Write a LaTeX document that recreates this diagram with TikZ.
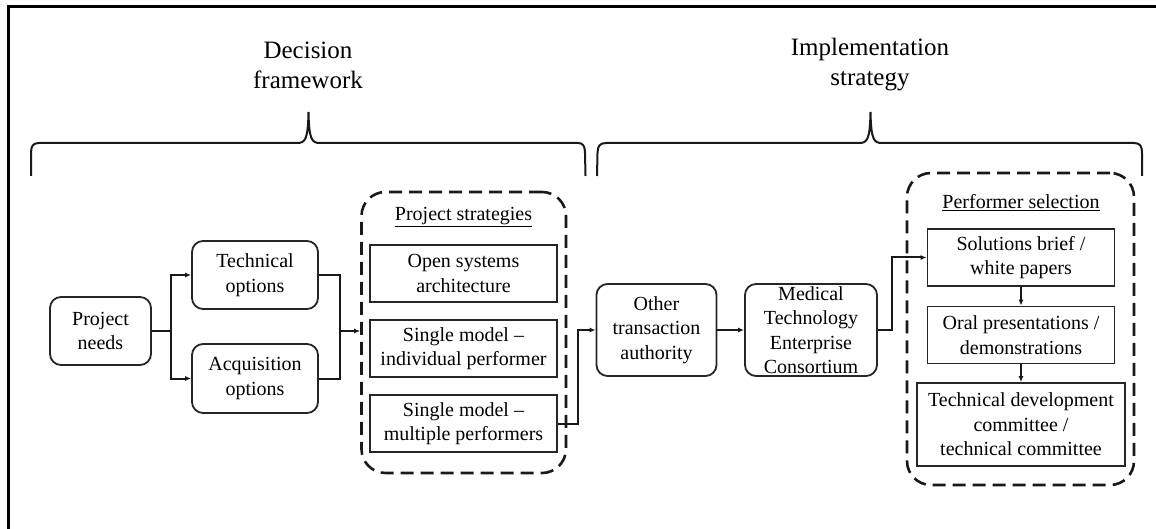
\documentclass[tikz,border=0pt]{standalone}
\usepackage{fontspec}
\setmainfont{Liberation Serif}
\usetikzlibrary{arrows.meta}
\begin{document}
\begin{tikzpicture}[x=1pt,y=-1pt,
  txt/.style={font=\fontsize{20}{24.5}\selectfont, align=center, inner sep=0pt},
  rbox/.style={txt, draw=black!85, line width=1.8pt, rounded corners=11pt},
  sbox/.style={txt, draw=black!85, line width=1.8pt},
  dbox/.style={draw=black!90, line width=2.6pt, dash pattern=on 13pt off 7pt, rounded corners=24pt},
  title/.style={font=\fontsize{25}{30}\selectfont, align=center, inner sep=0pt},
  brc/.style={line width=2pt, draw=black!90},
  conn/.style={line width=2pt, draw=black!90, -{Latex[length=6pt,width=5pt]}},
  line/.style={line width=2pt, draw=black!90}
]
\useasboundingbox (0,0) rectangle (1156,529);
\clip (0,0) rectangle (1156,529);
\fill[white] (0,0) rectangle (1156,529);
\draw[line width=3pt] (8,7) rectangle (1175,550);

% titles and braces
\node[title] (t1) at (308,65) {Decision\\framework};
\node[title] (t2) at (870,65) {Implementation\\strategy};
\draw[brc] (31,176) -- (31,153) .. controls (31,146) and (33,143) .. (39,143)
  -- (297,143) .. controls (305,143) and (308,140) .. (308.5,112)
  .. controls (309,140) and (312,143) .. (320,143)
  -- (578,143) .. controls (583,143) and (585,146) .. (585,153) -- (585.5,176);
\draw[brc] (597,176) -- (597.5,153) .. controls (597.5,146) and (600,143) .. (606,143)
  -- (859,143) .. controls (867,143) and (870,140) .. (870.5,112)
  .. controls (871,140) and (874,143) .. (882,143)
  -- (1134,143) .. controls (1140,143) and (1142,146) .. (1142,153) -- (1142,176);

% left part
\node[rbox, minimum width=101pt, minimum height=68pt] (pn) at (100.5,331) {Project\\needs};
\node[rbox, minimum width=126pt, minimum height=68pt] (tech) at (255,275) {Technical\\options};
\node[rbox, minimum width=126pt, minimum height=69pt] (acq) at (255,378.5) {Acquisition\\options};

\node[dbox, minimum width=204.5pt, minimum height=281pt] (ps) at (463.75,332.5) {};
\node[txt] (pst) at (463.5,217) {\underline{Project strategies}};
\node[sbox, minimum width=187pt, minimum height=57pt] (osa) at (463.5,273.5) {Open systems\\architecture};
\node[sbox, minimum width=187pt, minimum height=57pt] (sip) at (463.5,348.5) {Single model --\\individual performer};
\node[sbox, minimum width=187pt, minimum height=57pt] (smp) at (463.5,423.5) {Single model --\\multiple performers};

% right part
\node[rbox, minimum width=120pt, minimum height=92pt] (ota) at (656.5,330) {Other\\transaction\\authority};
\node[rbox, minimum width=132pt, minimum height=92pt] (mtec) at (811,330) {Medical\\Technology\\Enterprise\\Consortium};

\node[dbox, minimum width=227pt, minimum height=312pt] (pse) at (1020.5,329) {};
\node[txt] (pset) at (1021,203) {\underline{Performer selection}};
\node[sbox, minimum width=187pt, minimum height=57pt] (sb) at (1021,257.5) {Solutions brief /\\white papers};
\node[sbox, minimum width=187pt, minimum height=57pt] (op) at (1021,335) {Oral presentations /\\demonstrations};
\node[sbox, minimum width=208pt, minimum height=83pt] (tdc) at (1021,424.5) {Technical development\\committee /\\technical committee};

% connectors
\coordinate (j1) at (171,331);
\draw[line] (pn.east) -- (j1);
\draw[conn] (j1) |- (tech.west);
\draw[conn] (j1) |- (acq.west);
\coordinate (j2) at (340,331);
\draw[line] (tech.east) -| (j2);
\draw[line] (acq.east) -| (j2);
\draw[conn] (j2) -- (ps.west |- j2);
\coordinate (j3) at (578,330);
\draw[conn] (smp.east) -| (j3) -- (ota.west);
\draw[conn] (ota.east) -- (mtec.west);
\coordinate (j4) at (892,330);
\draw[conn] (mtec.east) -- (j4) |- (sb.west);
\draw[conn] (sb.south) -- (op.north);
\draw[conn] (op.south) -- (tdc.north);
\end{tikzpicture}
\end{document}
